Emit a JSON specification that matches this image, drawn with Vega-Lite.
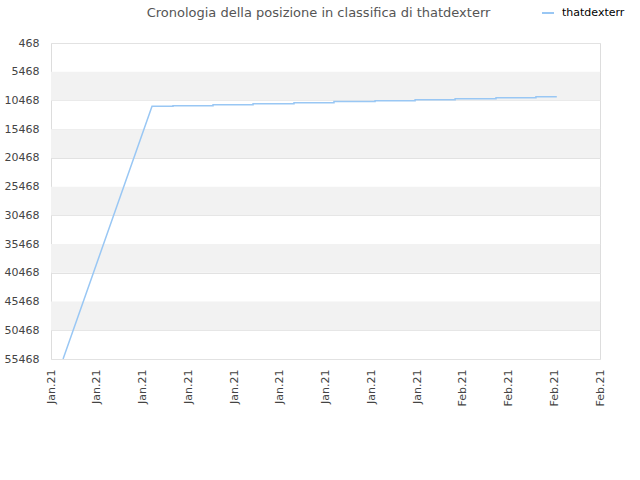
{
  "$schema": "https://vega.github.io/schema/vega-lite/v6.json",
  "autosize": "none",
  "width": 549,
  "height": 316,
  "padding": {"left": 51, "top": 43, "right": 40, "bottom": 121},
  "background": "white",
  "title": {
    "text": "Cronologia della posizione in classifica di thatdexterr",
    "anchor": "middle",
    "dx": -7,
    "offset": -14,
    "font": "DejaVu Sans",
    "fontSize": 13,
    "fontWeight": "normal",
    "color": "#555555"
  },
  "config": {
    "view": {"stroke": "#dddddd", "strokeWidth": 1},
    "axis": {
      "labelFont": "DejaVu Sans",
      "labelFontSize": 11,
      "labelColor": "#444444",
      "labelOverlap": false,
      "labelBound": false,
      "labelFlush": false,
      "ticks": false,
      "domain": false,
      "title": null
    }
  },
  "layer": [
    {
      "data": {
        "values": [
          {"lo": 5468, "hi": 10468},
          {"lo": 15468, "hi": 20468},
          {"lo": 25468, "hi": 30468},
          {"lo": 35468, "hi": 40468},
          {"lo": 45468, "hi": 50468}
        ]
      },
      "mark": {"type": "rect", "color": "#f2f2f2"},
      "encoding": {
        "y": {
          "field": "lo",
          "type": "quantitative",
          "scale": {"domain": [468, 55468], "reverse": true, "nice": false, "zero": false},
          "axis": {
            "values": [468, 5468, 10468, 15468, 20468, 25468, 30468, 35468, 40468, 45468, 50468, 55468],
            "format": "d",
            "labelPadding": 12,
            "labelOverlap": false,
            "grid": true,
            "gridColor": "#e2e2e2"
          }
        },
        "y2": {"field": "hi"}
      }
    },
    {
      "data": {
        "values": [
          {"n": 0, "player": "thatdexterr", "date": "2021-01-05T19:00", "rank": 55468},
          {"n": 1, "player": "thatdexterr", "date": "2021-01-11T15:00", "rank": 11486},
          {"n": 2, "player": "thatdexterr", "date": "2021-01-13T00:00", "rank": 11486},
          {"n": 3, "player": "thatdexterr", "date": "2021-01-13T00:00", "rank": 11381},
          {"n": 4, "player": "thatdexterr", "date": "2021-01-15T15:00", "rank": 11381},
          {"n": 5, "player": "thatdexterr", "date": "2021-01-15T15:00", "rank": 11207},
          {"n": 6, "player": "thatdexterr", "date": "2021-01-18T06:00", "rank": 11207},
          {"n": 7, "player": "thatdexterr", "date": "2021-01-18T06:00", "rank": 11033},
          {"n": 8, "player": "thatdexterr", "date": "2021-01-20T22:25", "rank": 11033},
          {"n": 9, "player": "thatdexterr", "date": "2021-01-20T22:25", "rank": 10859},
          {"n": 10, "player": "thatdexterr", "date": "2021-01-23T13:20", "rank": 10859},
          {"n": 11, "player": "thatdexterr", "date": "2021-01-23T13:20", "rank": 10650},
          {"n": 12, "player": "thatdexterr", "date": "2021-01-26T06:00", "rank": 10650},
          {"n": 13, "player": "thatdexterr", "date": "2021-01-26T06:00", "rank": 10511},
          {"n": 14, "player": "thatdexterr", "date": "2021-01-28T21:00", "rank": 10511},
          {"n": 15, "player": "thatdexterr", "date": "2021-01-28T21:00", "rank": 10337},
          {"n": 16, "player": "thatdexterr", "date": "2021-01-31T12:00", "rank": 10337},
          {"n": 17, "player": "thatdexterr", "date": "2021-01-31T12:00", "rank": 10163},
          {"n": 18, "player": "thatdexterr", "date": "2021-02-03T04:20", "rank": 10163},
          {"n": 19, "player": "thatdexterr", "date": "2021-02-03T04:20", "rank": 9989},
          {"n": 20, "player": "thatdexterr", "date": "2021-02-05T19:10", "rank": 9989},
          {"n": 21, "player": "thatdexterr", "date": "2021-02-05T19:10", "rank": 9814},
          {"n": 22, "player": "thatdexterr", "date": "2021-02-07T04:00", "rank": 9814}
        ]
      },
      "mark": {"type": "line", "strokeWidth": 1.5, "clip": true},
      "encoding": {
        "x": {
          "field": "date",
          "type": "temporal",
          "scale": {
            "domain": [
              {"year": 2021, "month": 1, "date": 5},
              {"year": 2021, "month": 2, "date": 10}
            ],
            "nice": false
          },
          "axis": {
            "values": [
              {"year": 2021, "month": 1, "date": 5},
              {"year": 2021, "month": 1, "date": 8},
              {"year": 2021, "month": 1, "date": 11},
              {"year": 2021, "month": 1, "date": 14},
              {"year": 2021, "month": 1, "date": 17},
              {"year": 2021, "month": 1, "date": 20},
              {"year": 2021, "month": 1, "date": 23},
              {"year": 2021, "month": 1, "date": 26},
              {"year": 2021, "month": 1, "date": 29},
              {"year": 2021, "month": 2, "date": 1},
              {"year": 2021, "month": 2, "date": 4},
              {"year": 2021, "month": 2, "date": 7},
              {"year": 2021, "month": 2, "date": 10}
            ],
            "format": "%b.%y",
            "labelAngle": -90,
            "labelPadding": 10,
            "grid": false
          }
        },
        "y": {
          "field": "rank",
          "type": "quantitative",
          "axis": {
            "values": [468, 5468, 10468, 15468, 20468, 25468, 30468, 35468, 40468, 45468, 50468, 55468],
            "format": "d",
            "labelPadding": 12,
            "labelOverlap": false,
            "grid": true,
            "gridColor": "#e2e2e2"
          }
        },
        "order": {"field": "n", "type": "quantitative"},
        "color": {
          "field": "player",
          "type": "nominal",
          "scale": {"range": ["#99c7f4"]},
          "legend": {
            "title": null,
            "orient": "none",
            "legendX": 490,
            "legendY": -37,
            "symbolType": "stroke",
            "symbolSize": 144,
            "symbolStrokeWidth": 2,
            "labelFont": "DejaVu Sans",
            "labelFontSize": 11,
            "labelColor": "#000000",
            "labelOffset": 7,
            "padding": 0
          }
        }
      }
    }
  ]
}
